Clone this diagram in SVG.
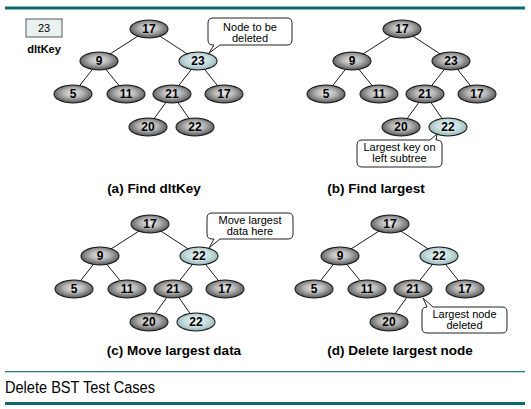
<svg xmlns="http://www.w3.org/2000/svg" width="531" height="409" viewBox="0 0 531 409">
<defs>
<radialGradient id="gGray" cx="50%" cy="45%" r="58%">
<stop offset="0%" stop-color="#ececec"/>
<stop offset="45%" stop-color="#b4b4b4"/>
<stop offset="100%" stop-color="#4a4a4a"/>
</radialGradient>
<radialGradient id="gTeal" cx="50%" cy="45%" r="58%">
<stop offset="0%" stop-color="#eef6f6"/>
<stop offset="55%" stop-color="#c6dcdd"/>
<stop offset="100%" stop-color="#8aaeb1"/>
</radialGradient>
</defs>
<style>
.n ellipse{fill:url(#gGray);stroke:#1e1e1e;stroke-width:1.1}
.n.hl ellipse{fill:url(#gTeal)}
.n text{font-family:"Liberation Sans",Arial,sans-serif;font-weight:bold;font-size:12px;fill:#000;text-anchor:middle}
.e line{stroke:#1a1a1a;stroke-width:1}
.co path{fill:#fff;stroke:#222;stroke-width:1}
.co text{font-family:"Liberation Sans",Arial,sans-serif;font-size:11px;fill:#000;text-anchor:middle}
.cap{font-family:"Liberation Sans",Arial,sans-serif;font-weight:bold;font-size:13.5px;fill:#000;text-anchor:middle}
</style>
<rect width="531" height="409" fill="#fff"/>
<rect x="5" y="6.5" width="520" height="3" fill="#0e6b6d"/>
<g id="dltKey">
<rect x="26" y="19" width="36" height="18" fill="#e9f1f1" stroke="#555" stroke-width="1"/>
<text x="44" y="32" font-family="Liberation Sans,Arial,sans-serif" font-size="11" text-anchor="middle">23</text>
<text x="44" y="53" font-family="Liberation Sans,Arial,sans-serif" font-size="11" font-weight="bold" text-anchor="middle">dltKey</text>
</g>
<g id="connectors" class="e">
<line x1="149" y1="29" x2="99" y2="61"/><line x1="149" y1="29" x2="198" y2="61"/>
<line x1="99" y1="61" x2="73" y2="94"/><line x1="99" y1="61" x2="126" y2="94"/>
<line x1="198" y1="61" x2="172" y2="94"/><line x1="198" y1="61" x2="224" y2="94"/>
<line x1="172" y1="94" x2="148" y2="127"/><line x1="172" y1="94" x2="195" y2="127"/>
<line x1="402" y1="29" x2="352" y2="61"/><line x1="402" y1="29" x2="451" y2="61"/>
<line x1="352" y1="61" x2="326" y2="94"/><line x1="352" y1="61" x2="379" y2="94"/>
<line x1="451" y1="61" x2="425" y2="94"/><line x1="451" y1="61" x2="477" y2="94"/>
<line x1="425" y1="94" x2="401" y2="127"/><line x1="425" y1="94" x2="448" y2="127"/>
<line x1="150" y1="224" x2="100" y2="256"/><line x1="150" y1="224" x2="199" y2="256"/>
<line x1="100" y1="256" x2="74" y2="289"/><line x1="100" y1="256" x2="127" y2="289"/>
<line x1="199" y1="256" x2="173" y2="289"/><line x1="199" y1="256" x2="225" y2="289"/>
<line x1="173" y1="289" x2="149" y2="322"/><line x1="173" y1="289" x2="196" y2="322"/>
<line x1="390" y1="224" x2="340" y2="256"/><line x1="390" y1="224" x2="439" y2="256"/>
<line x1="340" y1="256" x2="314" y2="289"/><line x1="340" y1="256" x2="367" y2="289"/>
<line x1="439" y1="256" x2="413" y2="289"/><line x1="439" y1="256" x2="465" y2="289"/>
<line x1="413" y1="289" x2="389" y2="322"/>
</g>
<!-- panel a -->
<g id="a17" class="n"><ellipse cx="149" cy="29" rx="19" ry="9"/><text x="149" y="33">17</text></g>
<g id="a9" class="n"><ellipse cx="99" cy="61" rx="19" ry="9"/><text x="99" y="65">9</text></g>
<g id="a23" class="n hl"><ellipse cx="198" cy="61" rx="19" ry="9"/><text x="198" y="65">23</text></g>
<g id="a5" class="n"><ellipse cx="73" cy="94" rx="19" ry="9"/><text x="73" y="98">5</text></g>
<g id="a11" class="n"><ellipse cx="126" cy="94" rx="19" ry="9"/><text x="126" y="98">11</text></g>
<g id="a21" class="n"><ellipse cx="172" cy="94" rx="19" ry="9"/><text x="172" y="98">21</text></g>
<g id="a17r" class="n"><ellipse cx="224" cy="94" rx="19" ry="9"/><text x="224" y="98">17</text></g>
<g id="a20" class="n"><ellipse cx="148" cy="127" rx="19" ry="9"/><text x="148" y="131">20</text></g>
<g id="a22" class="n"><ellipse cx="195" cy="127" rx="19" ry="9"/><text x="195" y="131">22</text></g>
<g id="calloutA" class="co">
<path d="M213,18 H287 Q292,18 292,23 V40 Q292,45 287,45 H220 L209,53 L214,45 H213 Q208,45 208,40 V23 Q208,18 213,18 Z"/>
<text x="250" y="31">Node to be</text><text x="250" y="42">deleted</text>
</g>
<text class="cap" x="154" y="193">(a) Find dltKey</text>
<!-- panel b -->
<g id="b17" class="n"><ellipse cx="402" cy="29" rx="19" ry="9"/><text x="402" y="33">17</text></g>
<g id="b9" class="n"><ellipse cx="352" cy="61" rx="19" ry="9"/><text x="352" y="65">9</text></g>
<g id="b23" class="n"><ellipse cx="451" cy="61" rx="19" ry="9"/><text x="451" y="65">23</text></g>
<g id="b5" class="n"><ellipse cx="326" cy="94" rx="19" ry="9"/><text x="326" y="98">5</text></g>
<g id="b11" class="n"><ellipse cx="379" cy="94" rx="19" ry="9"/><text x="379" y="98">11</text></g>
<g id="b21" class="n"><ellipse cx="425" cy="94" rx="19" ry="9"/><text x="425" y="98">21</text></g>
<g id="b17r" class="n"><ellipse cx="477" cy="94" rx="19" ry="9"/><text x="477" y="98">17</text></g>
<g id="b20" class="n"><ellipse cx="401" cy="127" rx="19" ry="9"/><text x="401" y="131">20</text></g>
<g id="b22" class="n hl"><ellipse cx="448" cy="127" rx="19" ry="9"/><text x="448" y="131">22</text></g>
<g id="calloutB" class="co">
<path d="M362,140 H430 L437,134 L436,140 H437 Q442,140 442,145 V162 Q442,167 437,167 H362 Q357,167 357,162 V145 Q357,140 362,140 Z"/>
<text x="399.5" y="151">Largest key on</text><text x="399.5" y="162">left subtree</text>
</g>
<text class="cap" x="376" y="193">(b) Find largest</text>
<!-- panel c -->
<g id="c17" class="n"><ellipse cx="150" cy="224" rx="19" ry="9"/><text x="150" y="228">17</text></g>
<g id="c9" class="n"><ellipse cx="100" cy="256" rx="19" ry="9"/><text x="100" y="260">9</text></g>
<g id="c22" class="n hl"><ellipse cx="199" cy="256" rx="19" ry="9"/><text x="199" y="260">22</text></g>
<g id="c5" class="n"><ellipse cx="74" cy="289" rx="19" ry="9"/><text x="74" y="293">5</text></g>
<g id="c11" class="n"><ellipse cx="127" cy="289" rx="19" ry="9"/><text x="127" y="293">11</text></g>
<g id="c21" class="n"><ellipse cx="173" cy="289" rx="19" ry="9"/><text x="173" y="293">21</text></g>
<g id="c17r" class="n"><ellipse cx="225" cy="289" rx="19" ry="9"/><text x="225" y="293">17</text></g>
<g id="c20" class="n"><ellipse cx="149" cy="322" rx="19" ry="9"/><text x="149" y="326">20</text></g>
<g id="c22b" class="n hl"><ellipse cx="196" cy="322" rx="19" ry="9"/><text x="196" y="326">22</text></g>
<g id="calloutC" class="co">
<path d="M212,213 H288 Q293,213 293,218 V234 Q293,239 288,239 H220 L209,248 L214,239 H212 Q207,239 207,234 V218 Q207,213 212,213 Z"/>
<text x="250" y="224">Move largest</text><text x="250" y="235">data here</text>
</g>
<text class="cap" x="174" y="355">(c) Move largest data</text>
<!-- panel d -->
<g id="d17" class="n"><ellipse cx="390" cy="224" rx="19" ry="9"/><text x="390" y="228">17</text></g>
<g id="d9" class="n"><ellipse cx="340" cy="256" rx="19" ry="9"/><text x="340" y="260">9</text></g>
<g id="d22" class="n hl"><ellipse cx="439" cy="256" rx="19" ry="9"/><text x="439" y="260">22</text></g>
<g id="d5" class="n"><ellipse cx="314" cy="289" rx="19" ry="9"/><text x="314" y="293">5</text></g>
<g id="d11" class="n"><ellipse cx="367" cy="289" rx="19" ry="9"/><text x="367" y="293">11</text></g>
<g id="d21" class="n"><ellipse cx="413" cy="289" rx="19" ry="9"/><text x="413" y="293">21</text></g>
<g id="d17r" class="n"><ellipse cx="465" cy="289" rx="19" ry="9"/><text x="465" y="293">17</text></g>
<g id="d20" class="n"><ellipse cx="389" cy="322" rx="19" ry="9"/><text x="389" y="326">20</text></g>
<g id="calloutD" class="co">
<path d="M427,307 L423,298 L433,307 H502 Q507,307 507,312 V328 Q507,333 502,333 H427 Q422,333 422,328 V312 Q422,307 427,307 Z"/>
<text x="464.5" y="318">Largest node</text><text x="464.5" y="329">deleted</text>
</g>
<text class="cap" x="400" y="355">(d) Delete largest node</text>
<!-- footer -->
<rect x="5" y="371" width="520" height="1.3" fill="#2f7b7d"/>
<text x="5" y="393" font-family="Liberation Sans,Arial,sans-serif" font-size="16" textLength="150" lengthAdjust="spacingAndGlyphs" fill="#000">Delete BST Test Cases</text>
<rect x="5" y="402" width="520" height="3" fill="#0e6b6d"/>
</svg>
